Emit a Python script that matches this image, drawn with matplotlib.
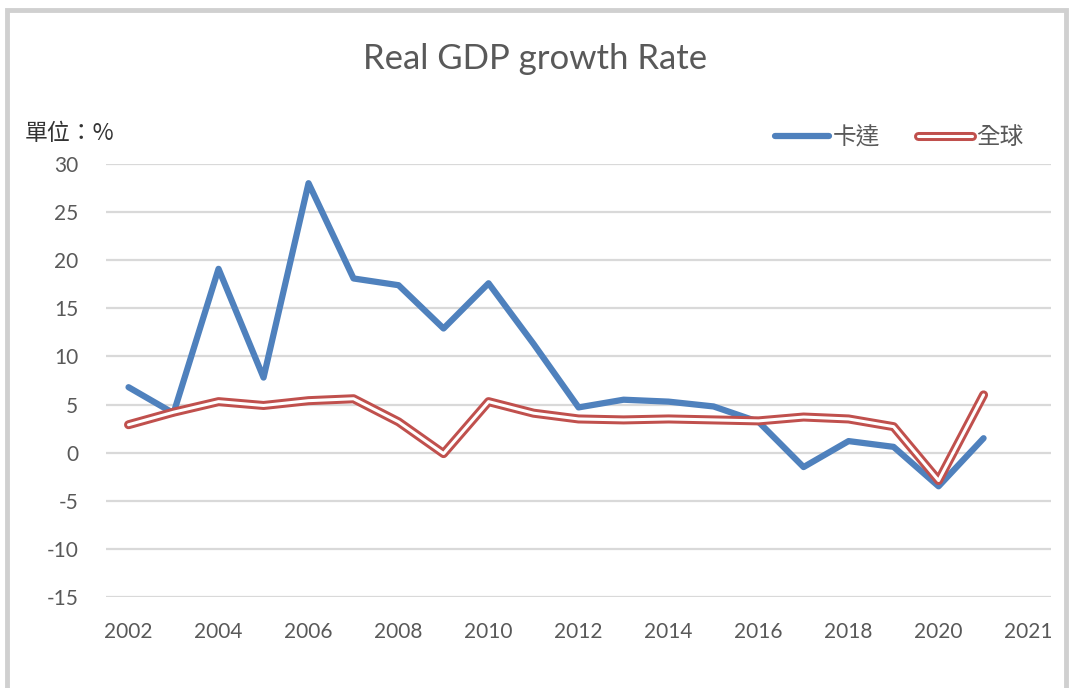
import matplotlib
matplotlib.use('Agg')
import matplotlib.pyplot as plt
import matplotlib.patheffects as pe
from matplotlib.patches import Rectangle

plt.rcParams['font.family'] = ['Lato', 'Noto Sans CJK TC', 'DejaVu Sans']
plt.rcParams['axes.unicode_minus'] = False

years = list(range(2002, 2022))
qatar = [6.8, 4.1, 19.1, 7.8, 28.0, 18.1, 17.4, 12.9, 17.6, 11.3,
         4.7, 5.5, 5.3, 4.8, 3.2, -1.5, 1.2, 0.6, -3.5, 1.5]
world = [2.9, 4.2, 5.3, 4.9, 5.4, 5.6, 3.2, -0.1, 5.3, 4.1,
         3.5, 3.4, 3.5, 3.4, 3.3, 3.7, 3.5, 2.7, -2.9, 6.0]
xtick_labels = ['2002', '2004', '2006', '2008', '2010', '2012', '2014',
                '2016', '2018', '2020', '2021']
yticks = [-15, -10, -5, 0, 5, 10, 15, 20, 25, 30]

blue = '#4F81BD'
red = '#C0504D'
grey = '#595959'

fig = plt.figure(figsize=(10.71, 6.88), dpi=100)
ax = fig.add_axes([0.099, 0.1323, 0.8824, 0.6294])

# outer chart frame
fig.patches.append(Rectangle((0.007, -0.05), 0.988, 1.035, transform=fig.transFigure,
                             fill=False, edgecolor='#D0D0D0', linewidth=3.5))

x = list(range(len(years)))
ax.plot(x, qatar, color=blue, lw=4.5, solid_capstyle='round', zorder=3,
        label='卡達')
# double red line: white core with red stroke
ax.plot(x, world, color='white', lw=2.2, solid_capstyle='round', zorder=4,
        label='全球',
        path_effects=[pe.Stroke(linewidth=6.5, foreground=red, capstyle='round'),
                      pe.Normal()])

ax.set_xlim(-0.5, 20.5)
ax.set_ylim(-15, 30)
ax.set_yticks(yticks)
ax.set_yticklabels([str(v) for v in yticks])
ax.set_xticks(list(range(0, 21, 2)))
ax.set_xticklabels(xtick_labels)
ax.tick_params(length=0, labelsize=15, labelcolor=grey)
ax.tick_params(axis='y', pad=20)
ax.tick_params(axis='x', pad=18)
ax.grid(axis='y', color='#D9D9D9', lw=1.6)
ax.set_axisbelow(True)
for s in ax.spines.values():
    s.set_visible(False)

fig.text(0.5, 0.914, 'Real GDP growth Rate', ha='center', va='center',
         fontsize=25, color=grey)
fig.text(0.023, 0.806, '單位：%', ha='left', va='center', fontsize=16.5,
         color='#333333', family=['Noto Sans CJK TC', 'DejaVu Sans'])

leg = ax.legend(loc='center right', bbox_to_anchor=(0.975, 0.80),
                bbox_transform=fig.transFigure, ncol=2,
                frameon=False, handlelength=2.3, handletextpad=0.15,
                columnspacing=1.6, prop={'family': ['Noto Sans CJK TC'], 'size': 17})
for t in leg.get_texts():
    t.set_color(grey)

fig.savefig('out.png', dpi=100)
